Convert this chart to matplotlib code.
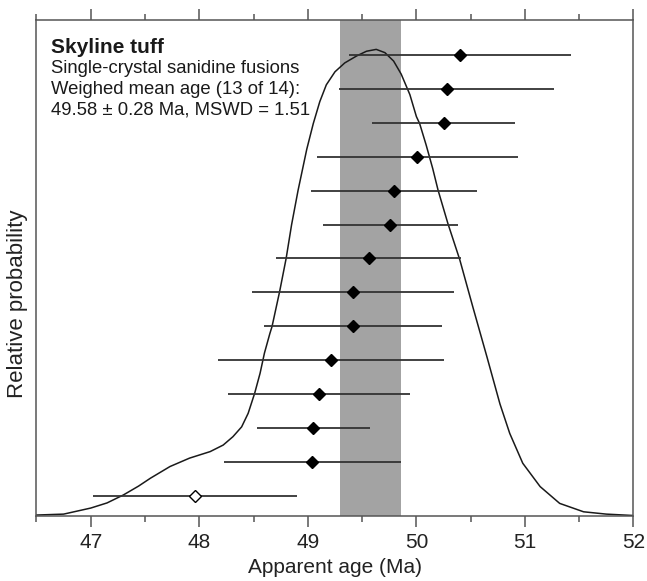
import matplotlib
matplotlib.use('Agg')
import matplotlib.pyplot as plt
from matplotlib.ticker import MultipleLocator
import numpy as np

plt.rcParams['font.family'] = ['Liberation Sans', 'DejaVu Sans']

# single-crystal ages (Ma), bottom row first, with 2-sigma errors
ages = [47.96, 49.04, 49.05, 49.10, 49.21, 49.42, 49.42, 49.56, 49.76, 49.79, 50.01, 50.25, 50.28, 50.40]
errs = [0.94, 0.815, 0.52, 0.84, 1.04, 0.82, 0.93, 0.855, 0.62, 0.765, 0.93, 0.655, 0.99, 1.025]
used = [False] + [True] * 13

# weighted mean and its error
mean_age = 49.58
mean_err = 0.28

# relative probability curve
curve_age = [46.50, 46.75, 47.00, 47.15, 47.30, 47.44, 47.55, 47.73, 47.91, 48.10,
             48.22, 48.31, 48.39, 48.45, 48.51, 48.56, 48.60, 48.65, 48.67, 48.74,
             48.80, 48.85, 48.91, 48.99, 49.05, 49.11, 49.17, 49.25, 49.34, 49.45,
             49.54, 49.63, 49.71, 49.79, 49.86, 49.94, 50.00, 50.03, 50.09, 50.15,
             50.20, 50.29, 50.40, 50.52, 50.65, 50.77, 50.86, 50.98, 51.14, 51.32,
             51.54, 51.75, 52.00]
curve_prob = [0.002, 0.004, 0.017, 0.028, 0.045, 0.064, 0.081, 0.106, 0.124, 0.138,
              0.152, 0.170, 0.191, 0.220, 0.263, 0.306, 0.349, 0.391, 0.406, 0.481,
              0.552, 0.624, 0.698, 0.786, 0.841, 0.888, 0.924, 0.952, 0.971, 0.986,
              0.996, 1.000, 0.993, 0.975, 0.947, 0.903, 0.856, 0.841, 0.795, 0.745,
              0.698, 0.627, 0.549, 0.448, 0.341, 0.240, 0.177, 0.113, 0.063, 0.027,
              0.009, 0.004, 0.001]

fig = plt.figure(figsize=(6.47, 5.81), dpi=100)
ax = fig.add_axes([0.0564, 0.1119, 0.9227, 0.8537])
ax2 = ax.twinx()

rows = np.arange(1, len(ages) + 1)

# band and curve live on the back axes, points on the front one
ax2.axvspan(mean_age - mean_err, mean_age + mean_err, color='#a3a3a3', lw=0, zorder=0)
ax2.plot(curve_age, curve_prob, color='#1a1a1a', lw=1.1, zorder=2)
ax2.set_ylim(0, 1.063)
ax2.set_yticks([])
for s in ax2.spines.values():
    s.set_visible(False)

ax.set_zorder(ax2.get_zorder() + 1)
ax.patch.set_visible(False)
ax2.patch.set_visible(True)

ax.errorbar(ages, rows, xerr=errs, fmt='none', ecolor='#333333', elinewidth=1.3, capsize=0, zorder=3)
for a, r, u in zip(ages, rows, used):
    ax.plot(a, r, marker='D', ms=6.5, mfc='black' if u else 'white', mec='black', mew=1.0, ls='none', zorder=4)

ax.set_xlim(46.5, 52)
ax.set_ylim(0.41, 15.03)
ax.set_yticks([])
ax.xaxis.set_major_locator(MultipleLocator(1))
ax.xaxis.set_minor_locator(MultipleLocator(0.5))
ax.tick_params(axis='x', which='both', direction='out', top=True, bottom=True,
               labeltop=False, colors='#555555', labelcolor='#222222', labelsize=15, width=1.1)
ax.tick_params(axis='x', which='major', length=8, pad=4)
ax.tick_params(axis='x', which='minor', length=4.3)
for s in ax.spines.values():
    s.set_color('#555555')
    s.set_linewidth(1.1)

tx = dict(transform=ax.transAxes, va='baseline', ha='left', color='#1a1a1a')
ax.text(0.025, 0.934, 'Skyline tuff', fontsize=15, fontweight='bold', **tx)
ax.text(0.025, 0.893, 'Single-crystal sanidine fusions', fontsize=13.3, **tx)
ax.text(0.025, 0.851, 'Weighed mean age (13 of 14):', fontsize=13.3, **tx)
ax.text(0.025, 0.810, '49.58 ± 0.28 Ma, MSWD = 1.51', fontsize=13.3, **tx)

fig.text(0.518, 0.0224, 'Apparent age (Ma)', fontsize=15, ha='center', va='center', color='#222222')
fig.text(0.0263, 0.477, 'Relative probability', fontsize=16, rotation=90, ha='center', va='center', color='#222222')

fig.savefig('out.png', dpi=100)
